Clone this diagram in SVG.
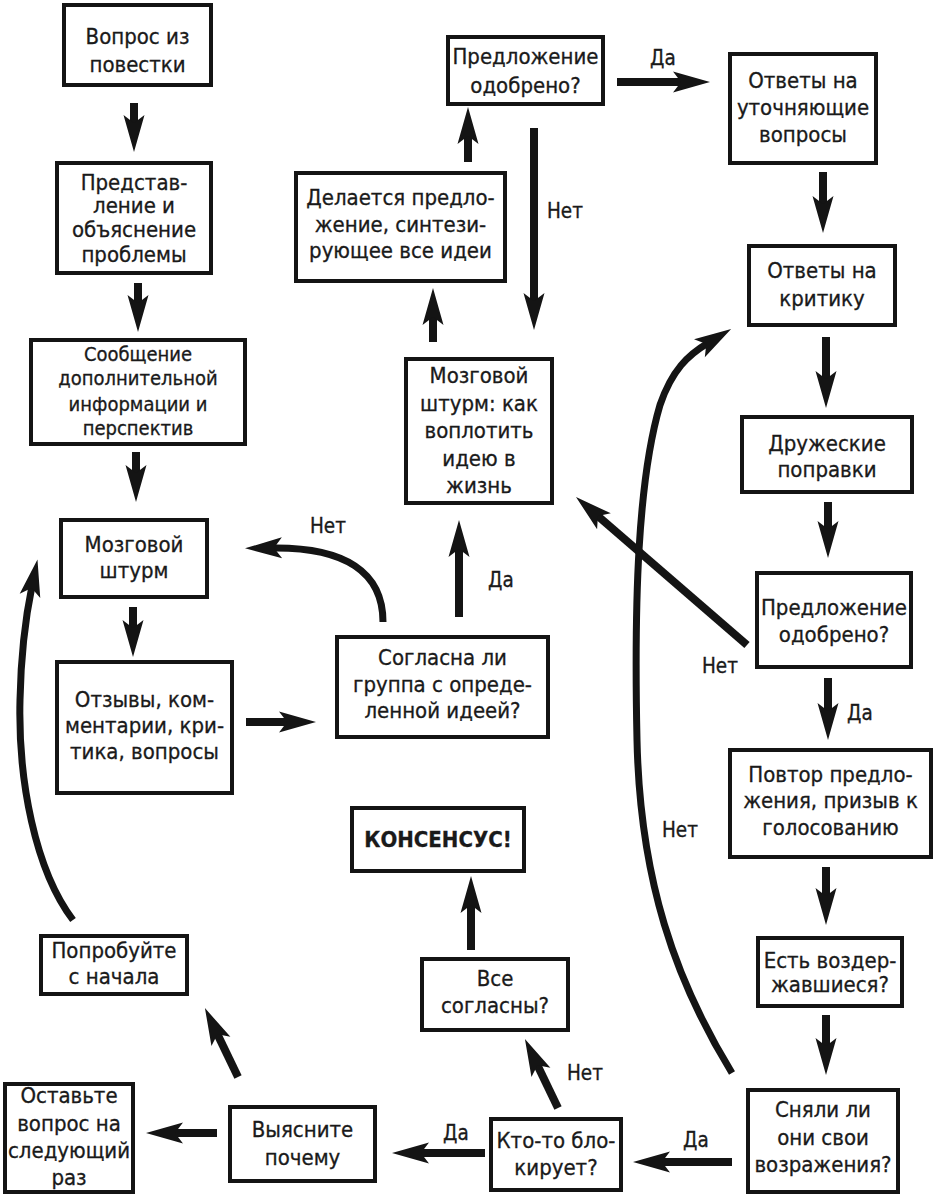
<svg xmlns="http://www.w3.org/2000/svg" width="933" height="1194" viewBox="0 0 933 1194">
<style>
.box rect{fill:#fff;stroke:#141414;stroke-width:4}
text{font-family:"DejaVu Sans Condensed","DejaVu Sans","Liberation Sans",sans-serif;font-stretch:condensed;fill:#1a1a1a;stroke:#1a1a1a;stroke-width:0.3;font-size:22px}
.box text{text-anchor:middle}
.sm{font-size:20px}
.lbl{font-size:20.5px}
.bold{font-weight:bold}
.conn path{fill:none;stroke:#141414;stroke-width:8;marker-end:url(#ah)}
.conn path.cv{stroke-width:7}
</style>
<defs>
<marker id="ah" markerUnits="userSpaceOnUse" markerWidth="40" markerHeight="24" viewBox="0 -12 40 24" refX="10" refY="0" orient="auto" overflow="visible">
<path d="M0,-10.5 L37,0 L0,10.5 L8,0 Z" fill="#141414"/>
</marker>
</defs>
<rect width="933" height="1194" fill="#fff"/>

<g class="conn">
<path d="M134,103 V125"/>
<path d="M138,283 V305"/>
<path d="M136,452 V475"/>
<path d="M133,607 V630"/>
<path d="M246,722 H289"/>
<path d="M459,617 V547"/>
<path d="M433,342 V315"/>
<path d="M468,162 V134"/>
<path d="M534,128 V303"/>
<path d="M617,82 H683"/>
<path d="M823,172 V206"/>
<path d="M826,337 V381"/>
<path d="M828,502 V531"/>
<path d="M828,678 V713"/>
<path d="M826,867 V898"/>
<path d="M826,1015 V1048"/>
<path d="M732,1162 H660"/>
<path d="M558,1108 L536.6,1063.4"/>
<path d="M471,950 V903"/>
<path d="M485,1153 H419"/>
<path d="M217,1133 H173"/>
<path d="M238,1077 L216.6,1032.4"/>
<path d="M747,645 L596.4,514.7"/>
<path class="cv" d="M383,622 C383,572 345,547 272,548"/>
<path class="cv" d="M73,920 C35,870 18,780 20,700 C21,650 26,615 32,586"/>
<path class="cv" d="M732,1073 C675,980 640,880 637,740 C634,600 638,480 660,405 C672,370 688,355 708,343"/>
</g>

<g id="labels">
<text class="lbl" x="310" y="533">Нет</text>
<text class="lbl" x="488" y="587">Да</text>
<text class="lbl" x="547" y="218">Нет</text>
<text class="lbl" x="650" y="65">Да</text>
<text class="lbl" x="702" y="673">Нет</text>
<text class="lbl" x="847" y="720">Да</text>
<text class="lbl" x="662" y="837">Нет</text>
<text class="lbl" x="683" y="1147">Да</text>
<text class="lbl" x="567" y="1080">Нет</text>
<text class="lbl" x="443" y="1140">Да</text>
</g>

<g id="n1" class="box"><rect x="64" y="5" width="147" height="80"/>
<text x="137.5" y="44">Вопрос из</text><text x="137.5" y="72">повестки</text></g>

<g id="n2" class="box"><rect x="57" y="163" width="154" height="110"/>
<text x="134" y="190">Представ-</text><text x="134" y="213">ление и</text><text x="134" y="237">объяснение</text><text x="134" y="262">проблемы</text></g>

<g id="n3" class="box"><rect x="31" y="340" width="214" height="104"/>
<text class="sm" x="138" y="361">Сообщение</text><text class="sm" x="138" y="385">дополнительной</text><text class="sm" x="138" y="411">информации и</text><text class="sm" x="138" y="435">перспектив</text></g>

<g id="n4" class="box"><rect x="61" y="520" width="146" height="77"/>
<text x="134" y="552">Мозговой</text><text x="134" y="578">штурм</text></g>

<g id="n5" class="box"><rect x="57" y="662" width="175" height="131"/>
<text x="144.5" y="707">Отзывы, ком-</text><text x="144.5" y="733">ментарии, кри-</text><text x="144.5" y="759">тика, вопросы</text></g>

<g id="n6" class="box"><rect x="337" y="637" width="211" height="100"/>
<text x="442.5" y="665">Согласна ли</text><text x="442.5" y="692">группа с опреде-</text><text x="442.5" y="718">ленной идеей?</text></g>

<g id="n7" class="box"><rect x="406" y="359" width="146" height="144"/>
<text x="479" y="383">Мозговой</text><text x="479" y="411">штурм: как</text><text x="479" y="438">воплотить</text><text x="479" y="466">идею в</text><text x="479" y="493">жизнь</text></g>

<g id="n8" class="box"><rect x="296" y="173" width="209" height="108"/>
<text x="400.5" y="205">Делается предло-</text><text x="400.5" y="232">жение, синтези-</text><text x="400.5" y="258">рующее все идеи</text></g>

<g id="n9" class="box"><rect x="448" y="37" width="155" height="67"/>
<text x="525.5" y="64">Предложение</text><text x="525.5" y="93">одобрено?</text></g>

<g id="n10" class="box"><rect x="730" y="54" width="146" height="109"/>
<text x="803" y="88">Ответы на</text><text x="803" y="115">уточняющие</text><text x="803" y="142">вопросы</text></g>

<g id="n11" class="box"><rect x="749" y="246" width="146" height="79"/>
<text x="822" y="278">Ответы на</text><text x="822" y="306">критику</text></g>

<g id="n12" class="box"><rect x="742" y="417" width="170" height="75"/>
<text x="827" y="451">Дружеские</text><text x="827" y="477">поправки</text></g>

<g id="n13" class="box"><rect x="757" y="573" width="154" height="94"/>
<text x="834" y="615">Предложение</text><text x="834" y="642">одобрено?</text></g>

<g id="n14" class="box"><rect x="730" y="750" width="201" height="107"/>
<text x="830.5" y="782">Повтор предло-</text><text x="830.5" y="808">жения, призыв к</text><text x="830.5" y="835">голосованию</text></g>

<g id="n15" class="box"><rect x="758" y="938" width="144" height="68"/>
<text x="830" y="968">Есть воздер-</text><text x="830" y="992">жавшиеся?</text></g>

<g id="n16" class="box"><rect x="748" y="1090" width="150" height="102"/>
<text x="823" y="1117">Сняли ли</text><text x="823" y="1145">они свои</text><text x="823" y="1172">возражения?</text></g>

<g id="n17" class="box"><rect x="491" y="1119" width="130" height="71"/>
<text x="556" y="1148">Кто-то бло-</text><text x="556" y="1175">кирует?</text></g>

<g id="n18" class="box"><rect x="422" y="959" width="146" height="71"/>
<text x="495" y="986">Все</text><text x="495" y="1013">согласны?</text></g>

<g id="n19" class="box"><rect x="352" y="808" width="172" height="63"/>
<text class="bold" x="438" y="847">КОНСЕНСУС!</text></g>

<g id="n20" class="box"><rect x="230" y="1107" width="145" height="74"/>
<text x="302.5" y="1137">Выясните</text><text x="302.5" y="1165">почему</text></g>

<g id="n21" class="box"><rect x="5" y="1084" width="128" height="108"/>
<text x="69" y="1103">Оставьте</text><text x="69" y="1131">вопрос на</text><text x="69" y="1158">следующий</text><text x="69" y="1185">раз</text></g>

<g id="n22" class="box"><rect x="41" y="936" width="146" height="58"/>
<text x="114" y="958">Попробуйте</text><text x="114" y="984">с начала</text></g>
</svg>
